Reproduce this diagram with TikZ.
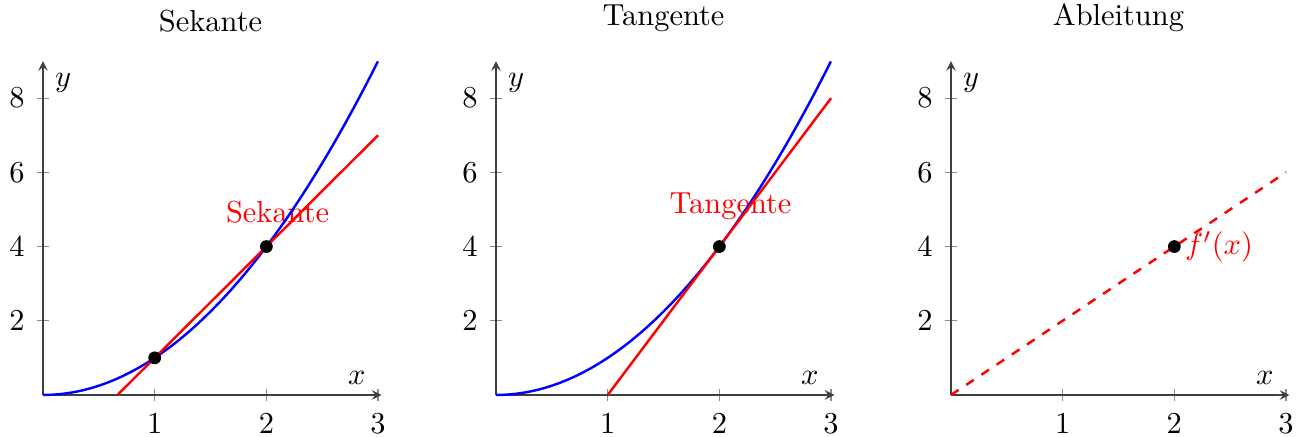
\documentclass[tikz,border=0pt]{standalone}
\usepackage{amsmath}
\begin{document}
\begin{tikzpicture}[x=1.29cm, y=0.4285cm, >=stealth,
    axisline/.style={->, black!75},
    tickmark/.style={black!45},
    graph/.style={thick, domain=0:3, samples=100, smooth},
    dot/.style={circle, fill=black, inner sep=0pt, minimum size=4.2pt}]
  \useasboundingbox (-0.497cm,-0.485cm) rectangle (14.53cm,4.562cm);

  % Axes, ticks and titles of the three panels
  \foreach \dx/\ttl [count=\k] in {0cm/Sekante, 5.232cm/Tangente, 10.487cm/Ableitung} {
    \begin{scope}[xshift=\dx]
      \foreach \i in {1,2,3} {
        \draw[tickmark] (\i,0) ++(0,-2.1pt) -- ++(0,4.2pt);
        \node[below=2.6pt] (xt\k-\i) at (\i,0) {\(\i\)};
      }
      \foreach \j in {2,4,6,8} {
        \draw[tickmark] (0,\j) ++(-2.1pt,0) -- ++(4.2pt,0);
        \node[left=2.5pt] (yt\k-\j) at (0,\j) {\(\j\)};
      }
      \draw[axisline] (0,0) -- (3.03,0);
      \draw[axisline] (0,0) -- (0,9);
      \node (xlab\k) at (2.81,0.445) {\(x\)};
      \node (ylab\k) at (0.18,8.41) {\(y\)};
      \node[above] (title\k) at (1.5,9.49) {\ttl};
    \end{scope}
  }

  % Sekante through (1,1) and (2,4)
  \node[red, anchor=base] (seklab) at (2.1,4.64) {Sekante};
  \draw[graph, blue] plot (\x, {\x*\x});
  \draw[thick, red] (2/3,0) -- (3,7);
  \node[dot] (p1) at (1,1) {};
  \node[dot] (p2) at (2,4) {};

  % Tangente at (2,4)
  \begin{scope}[xshift=5.232cm]
    \node[red, anchor=base] (tanlab) at (2.1,4.88) {Tangente};
    \draw[graph, blue] plot (\x, {\x*\x});
    \draw[thick, red] (1,0) -- (3,8);
    \node[dot] (q) at (2,4) {};
  \end{scope}

  % Ableitung f'(x) = 2x
  \begin{scope}[xshift=10.487cm]
    \draw[thick, red, dashed] (0,0) -- (3,6);
    \node[dot] (r) at (2,4) {};
    \node[red, right] (ablab) at (r.center) {\(f'(x)\)};
  \end{scope}
\end{tikzpicture}
\end{document}
